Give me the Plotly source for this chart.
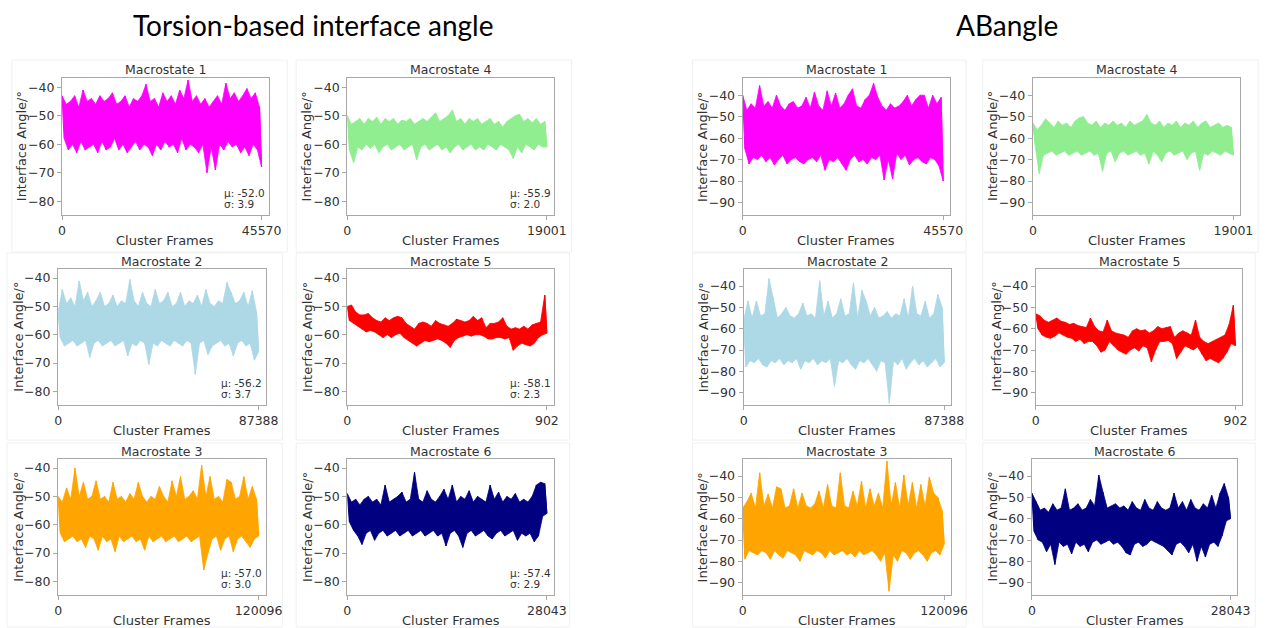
import plotly.graph_objects as go

W, H = 1283, 628

# ---------------- data (upper / lower envelope readings, degrees) ----------------
frames = {"L1": 45570, "L4": 19001, "L2": 87388, "L5": 902, "L3": 120096, "L6": 28043,
          "R1": 45570, "R4": 19001, "R2": 87388, "R5": 902, "R3": 120096, "R6": 28043}

L1_up = [-43,-46,-45,-43,-47,-41,-45,-44,-46,-43,-45,-44,-42,-46,-45,-43,-47,-44,-45,-43,-39,-45,-44,-47,
         -42,-45,-43,-46,-41,-44,-37.5,-45,-43,-46,-44,-47,-45,-43,-46,-38.6,-44,-42,-45,-43,-40.5,-44,-42,-47]
L1_lo = [-58,-62,-60,-63,-59,-62,-61,-60,-63,-59,-62,-61,-58,-62,-60,-63,-61,-59,-62,-60,-61,-64,-60,-62,
         -59,-61,-60,-63,-58,-62,-60,-61,-63,-60,-70,-61,-69,-60,-62,-59,-61,-60,-63,-61,-64,-60,-62,-68]

L4_up = [-50,-53,-52,-51,-53,-51,-52,-50.5,-53,-51,-52,-51,-53,-51.5,-52,-51,-53,-52,-51,-52,-50.5,-49,-52,-51,
         -50,-48,-52,-51,-53,-51,-52,-51,-53,-52,-51,-53,-52,-54,-52,-51,-50,-49.5,-52,-51,-52.5,-51,-53,-52]
L4_lo = [-62,-66.5,-61,-62,-60,-61.5,-60,-63,-61,-60,-62,-61,-60,-62,-61,-60,-65.5,-61,-60,-62,-61,-60,-62,-61,
         -63,-61,-60,-62,-61,-60,-62,-61,-62,-60,-61,-62,-60,-61,-62,-65,-61,-63,-60,-61,-62,-60,-61,-61]

L2_up = [-52,-44,-49,-47,-50,-41,-48,-45,-50,-48,-45,-50,-49,-46,-50,-48,-49,-40.5,-48,-50,-45,-49,-50,-44,
         -49,-48,-45,-50,-49,-45,-50,-48,-49,-46,-50,-44,-49,-50,-48,-49,-41.5,-45,-49,-48,-45,-50,-44.5,-52]
L2_lo = [-61,-64,-63,-62,-64,-63,-62,-68,-63,-62,-64,-63,-62,-64,-63,-62,-67.5,-63,-64,-62,-63,-70.5,-63,-64,
         -62,-63,-64,-62,-63,-64,-62,-63,-74,-63,-62,-67,-64,-63,-62,-64,-63,-67.5,-63,-62,-64,-63,-69,-66]

L5_up = [-50,-49.5,-52,-53,-53,-52.5,-54,-55,-55.5,-54,-55,-54,-53.5,-54,-56,-57,-58,-56,-55.5,-56,-57,-55,-56,-56.5,
         -57,-56,-54.5,-55,-55.5,-55,-53.5,-55,-54,-57.5,-56,-56,-55.5,-54,-57,-58,-57.5,-58,-57,-58,-56.5,-56,-55.5,-46]
L5_lo = [-55,-56,-57,-58,-59,-58.5,-59,-60,-61,-60,-61,-60,-59.5,-61,-62,-63,-64,-63,-62,-62.5,-62,-61.5,-62,-63,
         -64.5,-62,-61,-60.5,-60,-60.5,-60,-60,-60.5,-61.5,-61.5,-61,-61,-61.5,-61,-65.5,-64,-63,-63.5,-64,-63,-61,-60,-59.5]

L3_up = [-50,-52,-47,-51,-40,-50,-45,-51,-50,-44.5,-51,-50,-52,-45,-51,-50,-52,-49,-51,-45,-50,-52,-50,-51,
         -46.5,-50,-52,-44.5,-50,-43,-51,-50,-48,-51,-39,-50,-43,-51,-50,-52,-44,-45,-51,-50,-43,-51,-46.5,-51]
L3_lo = [-63,-66,-65,-64,-66,-65,-68,-64,-65,-69,-64,-66,-65,-69.5,-64,-66,-65,-64,-66,-65,-69,-64,-66,-65,
         -64,-66,-65,-64,-66,-65,-64,-66,-65,-64,-76,-70,-65,-64,-69,-65,-64,-69.5,-65,-64,-66,-68,-65,-64]

L6_up = [-49,-52,-51,-53,-51,-50,-52,-51,-53,-46,-52,-51,-50,-48.5,-52,-51,-41.5,-51,-52,-48,-51,-52,-50,-47.5,
         -51,-46,-52,-50,-51,-48,-52,-50,-51,-52,-46,-51,-48.5,-52,-50,-51,-49,-52,-51,-52,-50,-46,-45,-45.5]
L6_lo = [-59,-62,-64,-67,-63,-62,-65.5,-63,-62,-64,-63,-62,-64,-63,-62,-64,-63,-62,-64,-63,-62,-64,-63,-67.5,
         -63,-62,-64,-68,-63,-62,-64,-63,-62,-64,-65,-63,-62,-64,-63,-62,-65.5,-63,-64,-63,-66,-64,-57,-56]

R1_up = [-40,-47,-44,-46,-35.5,-45,-43,-46,-40,-45,-47,-44,-43,-46,-45,-41,-46,-38.5,-45,-47,-38,-45,-39,-46,
         -44,-40,-37,-45,-46,-42,-40,-34.5,-41,-45,-47,-44,-46,-45,-43,-40,-45,-42,-40,-40,-46,-40,-44,-41]
R1_lo = [-65,-72,-69,-70,-68,-71,-69,-72.5,-70,-68,-72,-70,-69,-71,-72,-70,-69,-71,-68,-75,-70,-71,-69,-72,
         -75,-70,-68,-71,-70,-72,-69,-70,-68,-79.5,-70,-79,-67,-70,-68,-72.5,-70,-69,-71,-72,-69,-70,-73,-80]

R4_up = [-53,-56,-54,-51,-53,-55,-52,-54,-53,-55,-52,-50.5,-50,-53,-54,-52,-55,-53,-54,-52,-54,-53,-55,-52,
         -54,-53,-52,-49,-53,-54,-52,-55,-53,-54,-52,-55,-53,-54,-52,-55,-53,-52,-55,-54,-53,-55,-54,-55]
R4_lo = [-63,-76.5,-68,-67,-66,-68,-67,-66,-68,-67,-66,-68,-67,-66,-68,-67,-75.5,-67,-66,-71,-67,-66,-68,-67,
         -66,-68,-67,-72,-66,-68,-71,-67,-66,-68,-67,-66,-70,-67,-66,-75,-67,-68,-66,-67,-68,-66,-67,-68]

R2_up = [-56,-47,-55,-47,-54,-53,-36.5,-45,-55,-53,-50,-54,-55,-53,-48,-54,-53,-55,-37.5,-54,-47,-55,-53,-46,
         -54,-53,-38.5,-55,-42,-47,-54,-50,-55,-54,-52,-55,-53,-54,-46,-55,-40,-53,-54,-47,-55,-53,-44,-50]
R2_lo = [-78,-75,-76,-74,-77,-78,-75,-76,-74,-77,-75,-76,-74,-79,-75,-76,-74,-77,-75,-76,-74,-87,-75,-76,
         -74,-77,-79,-75,-76,-74,-77,-80,-75,-76,-95,-75,-77,-74,-79,-76,-74,-77,-75,-78,-76,-74,-78,-76]

R5_up = [-53,-54,-56,-57,-56,-55,-56.5,-57,-58,-57.5,-58.5,-59,-59.5,-55,-59,-61,-61.5,-56,-61,-62,-62.5,-63,-64,-61,
         -60,-61,-60.5,-62,-61,-59,-60,-59.5,-59,-64,-62,-61,-62,-63,-56,-64,-66,-67,-66,-65,-64,-63,-58,-49]
R5_lo = [-60,-63,-64,-64.5,-63.5,-62,-63,-64,-64.5,-66,-65,-67,-66,-66,-68,-71,-70,-66,-68,-70,-71,-72,-70,-69,
         -70.5,-68,-69,-75.5,-70,-66,-66,-65.5,-67,-74,-71,-68,-69,-70,-68.5,-72,-75,-74,-75,-76,-74,-71,-67,-68]

R3_up = [-55,-52,-48,-55,-38.5,-54,-48.5,-55,-45,-46,-55,-54,-46,-55,-48,-54,-55,-53,-47,-55,-44,-54,-55,-38.5,
         -54,-55,-47,-54,-42.5,-55,-46,-54,-48,-55,-33,-54,-43,-55,-39.5,-54,-43,-55,-44,-54,-40.5,-48,-50,-56]
R3_lo = [-79,-75,-76,-77,-75,-76,-79,-75,-77,-78.5,-75,-76,-77,-80,-75,-76,-77,-75,-76,-78.5,-75,-77,-76,-75,
         -77,-76,-78,-75,-77,-76,-75,-77,-80,-76,-94,-77,-80,-75,-76,-79,-76,-75,-77,-80,-76,-75,-77,-72]

R6_up = [-48,-52,-56,-55,-57,-53,-56,-55,-46,-56,-55,-53,-56,-55,-51,-54,-39.5,-47.5,-55,-54,-53,-55,-54,-56,
         -52,-55,-56,-51,-55,-56,-52,-55,-56,-55,-48,-55,-52,-56,-51,-55,-56,-53,-55,-49,-55,-48,-43.5,-50]
R6_lo = [-66,-70,-71,-75.5,-72,-81.5,-71,-73,-72,-76.5,-71,-73,-72,-75.5,-71,-70,-72,-71,-70,-72,-71,-73,-76,-77,
         -72,-71,-73,-72,-70,-71,-72,-73,-75,-77,-72,-71,-73,-76,-72,-80,-73,-78,-72,-71,-73,-68,-61,-60]

stats = {"L1": ("-52.0", "3.9"), "L4": ("-55.9", "2.0"), "L2": ("-56.2", "3.7"),
         "L5": ("-58.1", "2.3"), "L3": ("-57.0", "3.0"), "L6": ("-57.4", "2.9")}

left_ticks = [-40, -50, -60, -70, -80]
right_ticks = [-40, -50, -60, -70, -80, -90]

# ---------------- layout geometry (pixels) ----------------
panels = [
    ("L1", "Macrostate 1", L1_up, L1_lo, "#ff00ff", (59, 269, 78, 215), (8, 288, 60, 252)),
    ("L4", "Macrostate 4", L4_up, L4_lo, "#90ee90", (349, 559, 78, 215), (297, 577, 60, 252)),
    ("L2", "Macrostate 2", L2_up, L2_lo, "#add8e6", (55, 266, 269, 405), (3, 283, 253, 440)),
    ("L5", "Macrostate 5", L5_up, L5_lo, "#ff0000", (349, 559, 269, 405), (297, 575, 253, 440)),
    ("L3", "Macrostate 3", L3_up, L3_lo, "#ffa500", (55, 266, 459, 595), (3, 283, 443, 627)),
    ("L6", "Macrostate 6", L6_up, L6_lo, "#000080", (349, 559, 459, 595), (297, 575, 443, 627)),
    ("R1", "Macrostate 1", R1_up, R1_lo, "#ff00ff", (751, 962, 78, 215), (700, 978, 60, 252)),
    ("R4", "Macrostate 4", R4_up, R4_lo, "#90ee90", (1046, 1257, 78, 215), (995, 1275, 60, 252)),
    ("R2", "Macrostate 2", R2_up, R2_lo, "#add8e6", (752, 963, 269, 405), (700, 978, 253, 440)),
    ("R5", "Macrostate 5", R5_up, R5_lo, "#ff0000", (1049, 1259, 269, 405), (995, 1272, 253, 440)),
    ("R3", "Macrostate 3", R3_up, R3_lo, "#ffa500", (751, 963, 459, 595), (700, 978, 443, 627)),
    ("R6", "Macrostate 6", R6_up, R6_lo, "#000080", (1045, 1254, 459, 595), (995, 1272, 443, 627)),
]

TXT = "#333333"
FONT = "DejaVu Sans"
SPINE = "#a8a8a8"

fig = go.Figure()
layout = {}
ann = []
shapes = []

def px(x):
    return x / W

def py(y):
    return 1 - y / H

for i, (key, title, up, lo, color, box, frame) in enumerate(panels, start=1):
    x0, x1, y0, y1 = box
    n = frames[key]
    ys = []
    for u, l in zip(up, lo):
        ys += [u, l]
    m = len(ys)
    xs = [k * n / (m - 1) for k in range(m)]
    xr = "x" if i == 1 else f"x{i}"
    yr = "y" if i == 1 else f"y{i}"
    # filled body of the trace between the upper and lower readings
    xu = xs[0::2]
    xl = xs[1::2]
    fig.add_trace(go.Scatter(x=xu + xl[::-1], y=list(up) + list(lo)[::-1], mode="lines",
                             fill="toself", fillcolor=color, line=dict(color=color, width=0.8),
                             xaxis=xr, yaxis=yr, showlegend=False, hoverinfo="skip"))
    # the raw oscillating trace
    fig.add_trace(go.Scatter(x=xs, y=ys, mode="lines", line=dict(color=color, width=1.1),
                             xaxis=xr, yaxis=yr, showlegend=False, hoverinfo="skip"))
    left = key.startswith("L")
    ticks = left_ticks if left else right_ticks
    yrange = [-84.8, -36.8] if left else [-95.8, -32.0]
    axcommon = dict(showline=True, mirror=True, linecolor=SPINE, linewidth=1.3,
                    ticks="outside", ticklen=4, tickcolor=SPINE, tickwidth=1,
                    showgrid=False, zeroline=False,
                    tickfont=dict(family=FONT, size=12.5, color=TXT))
    layout["xaxis" if i == 1 else f"xaxis{i}"] = dict(
        domain=[px(x0), px(x1)], anchor=yr, range=[0, n * 1.035],
        tickvals=[0, n], ticktext=["0", str(n)], **axcommon)
    layout["yaxis" if i == 1 else f"yaxis{i}"] = dict(
        domain=[py(y1), py(y0)], anchor=xr, range=yrange,
        tickvals=ticks, ticktext=["\u2212" + str(-t) for t in ticks], **axcommon)

    fx0, fx1, fy0, fy1 = frame
    shapes.append(dict(type="rect", xref="paper", yref="paper", x0=px(fx0), x1=px(fx1),
                       y0=py(fy1), y1=py(fy0), line=dict(color="#f0f0f0", width=1), layer="below"))

    ann.append(dict(text=title, x=px((x0 + x1) / 2), y=py(y0 - 8), xref="paper", yref="paper",
                    showarrow=False, xanchor="center", yanchor="middle",
                    font=dict(family=FONT, size=12.5, color=TXT)))
    ann.append(dict(text="Interface Angle/°", x=px(x0 - 41), y=py((y0 + y1) / 2), xref="paper",
                    yref="paper", showarrow=False, textangle=-90, xanchor="center", yanchor="middle",
                    font=dict(family=FONT, size=13, color=TXT)))
    ann.append(dict(text="Cluster Frames", x=px((x0 + x1) / 2), y=py(y1 + 25), xref="paper",
                    yref="paper", showarrow=False, xanchor="center", yanchor="middle",
                    font=dict(family=FONT, size=13, color=TXT)))
    if key in stats:
        mu, sd = stats[key]
        ann.append(dict(text=f"μ: {mu}", x=px(x1 - 47), y=py(y1 - 22), xref="paper", yref="paper",
                        showarrow=False, xanchor="left", yanchor="middle",
                        font=dict(family=FONT, size=10.5, color=TXT)))
        ann.append(dict(text=f"σ: {sd}", x=px(x1 - 47), y=py(y1 - 11), xref="paper", yref="paper",
                        showarrow=False, xanchor="left", yanchor="middle",
                        font=dict(family=FONT, size=10.5, color=TXT)))

ann.append(dict(text="Torsion-based interface angle", x=px(315), y=py(25), xref="paper", yref="paper",
                showarrow=False, xanchor="center", yanchor="middle",
                font=dict(family="Lato", size=28, color="#000000")))
ann.append(dict(text="ABangle", x=px(1020), y=py(25), xref="paper", yref="paper",
                showarrow=False, xanchor="center", yanchor="middle",
                font=dict(family="Lato", size=28, color="#000000")))

fig.update_layout(width=W, height=H, margin=dict(l=0, r=0, t=0, b=0),
                  paper_bgcolor="white", plot_bgcolor="white",
                  annotations=ann, shapes=shapes, **layout)

fig.write_html("out.html")
